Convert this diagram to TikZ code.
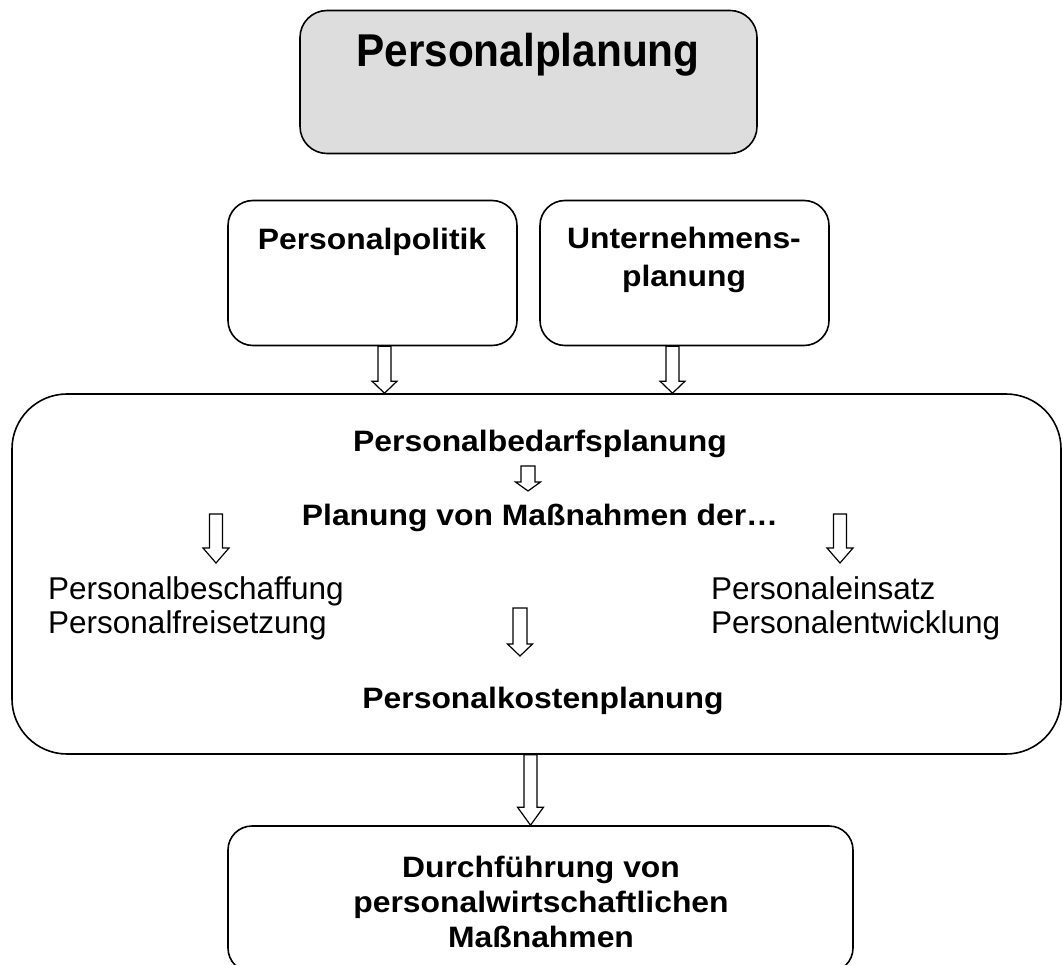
\documentclass[tikz,border=0pt]{standalone}
\usepackage{fontspec}
\setmainfont{Liberation Sans}
\newfontfamily\bsans{Liberation Sans}[FakeStretch=1.08]
\newfontfamily\tsans{Liberation Sans}[FakeStretch=0.92]
\usetikzlibrary{calc}
\definecolor{boxgray}{HTML}{DDDDDD}
\tikzset{
  box/.style={draw=black, line width=1.6pt, rounded corners=25pt, inner sep=0pt, fill=white},
  btxt/.style={inner sep=0pt, anchor=base, font=\bsans\bfseries\fontsize{29.5}{35}\selectfont},
  rtxt/.style={inner sep=0pt, anchor=base west, font=\fontsize{31.5}{36}\selectfont},
  barrow/.style={draw=black, line width=1.2pt, fill=white, line join=miter}
}
\newcommand\blockarrow[5]{%
  \draw[barrow] let \p1=(#1), \p2=(#2) in
    (\x1-#3pt,\y1) -- (\x1-#3pt,\y2+#5pt) -- (\x1-#4pt,\y2+#5pt) -- (\x1,\y2)
    -- (\x1+#4pt,\y2+#5pt) -- (\x1+#3pt,\y2+#5pt) -- (\x1+#3pt,\y1) -- cycle;}
\begin{document}
\begin{tikzpicture}[x=1pt,y=-1pt]
\clip (0,0) rectangle (1063,965);
% boxes
\node[box, fill=boxgray, rounded corners=27pt, minimum width=457pt, minimum height=143pt] (top) at (528.5,82) {};
\node[box, minimum width=289pt, minimum height=145pt] (pp) at (372.5,273) {};
\node[box, minimum width=289pt, minimum height=145pt] (up) at (684.5,273) {};
\node[box, rounded corners=55pt, minimum width=1049pt, minimum height=360pt] (big) at (536.5,574) {};
\node[box, rounded corners=24pt, minimum width=625pt, minimum height=146pt] (bot) at (540.5,899) {};
% texts
\node[inner sep=0pt, anchor=base, font=\tsans\bfseries\fontsize{46}{52}\selectfont] (title) at (528,67) {Personalplanung};
\node[btxt] (ppt) at (372,250) {Personalpolitik};
\node[btxt] (upt1) at (684,249) {Unternehmens-};
\node[btxt] (upt2) at (684,287) {planung};
\node[btxt] (bedarf) at (540,451) {Personalbedarfsplanung};
\node[btxt] (massn) at (540,525) {Planung von Maßnahmen der…};
\node[rtxt] (l1) at (48,599) {Personalbeschaffung};
\node[rtxt] (l2) at (48,633) {Personalfreisetzung};
\node[rtxt] (r1) at (711,599) {Personaleinsatz};
\node[rtxt] (r2) at (711,633) {Personalentwicklung};
\node[btxt] (kosten) at (543,708) {Personalkostenplanung};
\node[btxt] (d1) at (541,877) {Durchführung von};
\node[btxt] (d2) at (541,912) {personalwirtschaftlichen};
\node[btxt] (d3) at (541,947) {Maßnahmen};
% arrow end points
\coordinate (sA) at (528,466); \coordinate (sB) at (528,491);
\coordinate (lA) at (216,514); \coordinate (lB) at (216,563);
\coordinate (rA) at (840,514); \coordinate (rB) at (840,563);
\coordinate (mA) at (520,608); \coordinate (mB) at (520,656);
% arrows
\blockarrow{$(pp.south)+(12,0)$}{big.north}{6.5}{12.5}{12}
\blockarrow{$(up.south)+(-12,0)$}{big.north}{6.5}{12.5}{12}
\blockarrow{sA}{sB}{7}{12.5}{9}
\blockarrow{lA}{lB}{6.5}{13}{15}
\blockarrow{rA}{rB}{6.5}{13}{15}
\blockarrow{mA}{mB}{7}{12.5}{12}
\blockarrow{$(big.south)+(-6,0)$}{bot.north}{6.5}{13}{18}
\end{tikzpicture}
\end{document}
